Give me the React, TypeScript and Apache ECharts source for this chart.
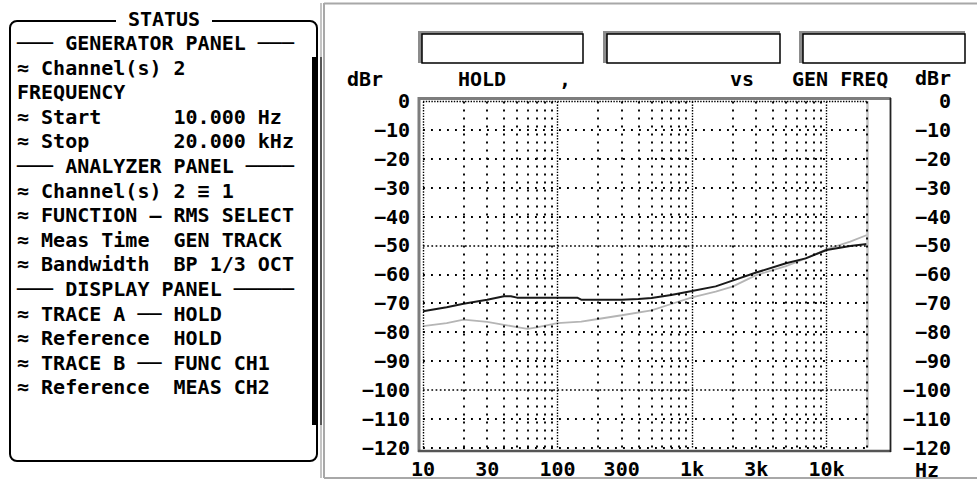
import React, { useEffect, useRef } from "react";
import * as echarts from "echarts";

// ---- data ----
const freqA = [10, 15, 20, 30, 40, 45, 50, 100, 140, 150, 300, 400, 500, 700, 1000, 1500, 2000, 3000, 5000, 7000, 10000, 15000, 20000];
const levelA = [-72.8, -71.4, -70.2, -68.8, -67.6, -67.6, -68.1, -68.1, -68.1, -68.8, -68.8, -68.6, -68.2, -67.2, -65.8, -64.2, -62.2, -59.4, -56.2, -54.5, -51.6, -50.2, -49.5];
const freqB = [10, 15, 20, 30, 40, 50, 60, 70, 100, 150, 200, 300, 500, 700, 1000, 1500, 2000, 3000, 5000, 7000, 10000, 15000, 20000];
const levelB = [-78.0, -76.9, -75.7, -76.5, -77.5, -78.3, -78.9, -78.4, -76.9, -76.4, -75.5, -74.2, -72.5, -70.3, -68.0, -66.0, -64.3, -60.3, -57.2, -54.5, -51.4, -48.7, -46.4];

const xTickValues = [10, 30, 100, 300, 1000, 3000, 10000];
const xTickLabels = ["10", "30", "100", "300", "1k", "3k", "10k"];
const xMajorGrid = [10, 100, 1000, 10000];
const xMinorGrid = [20, 30, 40, 50, 60, 70, 80, 90, 200, 300, 400, 500, 600, 700, 800, 900, 2000, 3000, 4000, 5000, 6000, 7000, 8000, 9000, 20000];
const yMajorGrid = [0, -50, -100];
const yMinorGrid = [-10, -20, -30, -40, -60, -70, -80, -90, -110, -120];

const statusLines = [
  "─── GENERATOR PANEL ───",
  "≈ Channel(s) 2",
  "FREQUENCY",
  "≈ Start      10.000 Hz",
  "≈ Stop       20.000 kHz",
  "─── ANALYZER PANEL ────",
  "≈ Channel(s) 2 ≡ 1",
  "≈ FUNCTION — RMS SELECT",
  "≈ Meas Time  GEN TRACK",
  "≈ Bandwidth  BP 1/3 OCT",
  "─── DISPLAY PANEL ─────",
  "≈ TRACE A ── HOLD",
  "≈ Reference  HOLD",
  "≈ TRACE B ── FUNC CH1",
  "≈ Reference  MEAS CH2",
];

const MONO = '"DejaVu Sans Mono", "Liberation Mono", monospace';

const txt = (text: string, x: number, y: number, align = "left") => ({
  type: "text",
  x,
  y,
  z: 20,
  silent: true,
  style: {
    text,
    fill: "#000",
    fontFamily: MONO,
    fontWeight: "bold",
    fontSize: 20,
    textAlign: align,
    align,
    textVerticalAlign: "middle",
    verticalAlign: "middle",
  },
});

const ln = (x1: number, y1: number, x2: number, y2: number, stroke: string, lineWidth: number) => ({
  type: "line",
  z: 15,
  silent: true,
  shape: { x1, y1, x2, y2 },
  style: { stroke, lineWidth },
});

const box = (x1: number, y1: number, x2: number, y2: number) => [
  { type: "rect", z: 5, silent: true, shape: { x: x1 - 4, y: y1 - 3, width: x2 - x1 + 4, height: y2 - y1 + 3 }, style: { fill: "#8c8c8c" } },
  { type: "rect", z: 6, silent: true, shape: { x: x1, y: y1, width: x2 - x1, height: y2 - y1 }, style: { fill: "#fff", stroke: "#000", lineWidth: 1.5 } },
];

export default function App() {
  const ref = useRef<HTMLDivElement>(null);
  useEffect(() => {
    if (!ref.current) return;
    const chart = echarts.init(ref.current, undefined, { renderer: "svg" });

    const minorDot = { color: "#000", width: 1.9, type: [1.9, 6.1] as any };
    const majorDot = { color: "#000", width: 1.4, type: [1.4, 1.4] as any };
    const midDot = { color: "#000", width: 1.7, type: [1.7, 2.5] as any };

    const gridMarks: any[] = [];
    xMinorGrid.forEach((v) => gridMarks.push({ xAxis: v, lineStyle: minorDot }));
    xMajorGrid.forEach((v) => gridMarks.push({ xAxis: v, lineStyle: majorDot }));
    yMinorGrid.forEach((v) => gridMarks.push({ yAxis: v, lineStyle: minorDot }));
    yMajorGrid.forEach((v) => gridMarks.push({ yAxis: v, lineStyle: v === 0 ? majorDot : midDot }));

    const labelFont = { fontFamily: MONO, fontWeight: "bold", fontSize: 20, color: "#000" };

    const graphics: any[] = [];
    // status panel
    graphics.push({ type: "rect", z: 10, silent: true, shape: { x: 10, y: 21, width: 307, height: 440, r: 7 }, style: { fill: "none", stroke: "#000", lineWidth: 2 } });
    graphics.push({ type: "rect", z: 11, silent: true, shape: { x: 116, y: 10, width: 96, height: 20 }, style: { fill: "#fff" } });
    graphics.push(txt("STATUS", 164, 19, "center"));
    statusLines.forEach((s, i) => graphics.push(txt(s, 17, 43 + i * 24.6)));
    // scroll bar & separators
    graphics.push({ type: "rect", z: 12, silent: true, shape: { x: 312, y: 57, width: 4, height: 368 }, style: { fill: "#000" } });
    graphics.push(ln(321, 3, 321, 478, "#b0b0b0", 1.5));
    graphics.push(ln(321, 57, 321, 425, "#333", 1.5));
    // right panel frame
    graphics.push(ln(324, 3, 324, 478, "#a8a8a8", 2));
    graphics.push(ln(324, 3.5, 977, 3.5, "#a8a8a8", 2));
    graphics.push(ln(324, 478, 977, 478, "#a8a8a8", 2));
    // header boxes
    graphics.push(...box(422, 34, 583, 63));
    graphics.push(...box(607, 34, 780, 63));
    graphics.push(...box(803, 34, 965, 63));
    // header texts
    graphics.push(txt("dBr", 347, 79));
    graphics.push(txt("HOLD", 458, 79));
    graphics.push(txt(",", 559, 79));
    graphics.push(txt("vs", 730, 79));
    graphics.push(txt("GEN FREQ", 792, 79));
    graphics.push(txt("dBr", 915, 77.5));
    graphics.push(txt("Hz", 915, 469.5));
    // plot frame
    graphics.push(ln(419, 97, 419, 452, "#7d7d7d", 3));
    graphics.push(ln(418, 98.5, 891, 98.5, "#7d7d7d", 3));
    graphics.push(ln(418, 451, 891, 451, "#555", 2.5));
    graphics.push(ln(890.5, 98, 890.5, 452, "#222", 1.8));

    chart.setOption({
      animation: false,
      backgroundColor: "#fff",
      grid: { left: 423, right: 110, top: 101, bottom: 33.5, containLabel: false },
      xAxis: {
        type: "log",
        logBase: 10,
        min: 10,
        max: 20000,
        axisLine: { show: false },
        axisTick: { show: false },
        axisLabel: { show: false },
        splitLine: { show: false },
      },
      yAxis: [
        {
          type: "value",
          min: -120,
          max: 0,
          interval: 10,
          position: "left",
          axisLine: { show: false },
          axisTick: { show: false },
          splitLine: { show: false },
          axisLabel: { ...labelFont, margin: 13, formatter: (v: number) => String(v).replace("-", "−") },
        },
        {
          type: "value",
          min: -120,
          max: 0,
          interval: 10,
          position: "right",
          axisLine: { show: false },
          axisTick: { show: false },
          splitLine: { show: false },
          axisLabel: { ...labelFont, margin: 84, align: "right", formatter: (v: number) => String(v).replace("-", "−") },
        },
      ],
      graphic: { elements: graphics },
      series: [
        {
          type: "line",
          z: 1,
          silent: true,
          data: [],
          showSymbol: false,
          markLine: {
            silent: true,
            symbol: ["none", "none"],
            label: { show: false },
            animation: false,
            data: [{ xAxis: 20000, lineStyle: { color: "#c4c4c4", width: 2.5, type: "solid" } }, ...gridMarks],
          },
        },
        {
          type: "line",
          name: "Trace B",
          z: 3,
          silent: true,
          showSymbol: false,
          data: freqB.map((f, i) => [f, levelB[i]]),
          lineStyle: { color: "#b5b5b5", width: 1.8 },
        },
        {
          type: "line",
          name: "Trace A",
          z: 4,
          silent: true,
          showSymbol: false,
          data: freqA.map((f, i) => [f, levelA[i]]),
          lineStyle: { color: "#1a1a1a", width: 2 },
        },
        {
          type: "custom",
          z: 5,
          silent: true,
          data: xTickValues.map((v) => [v, -120]),
          renderItem: (params: any, api: any) => {
            const p = api.coord([api.value(0), api.value(1)]);
            return {
              type: "text",
              x: p[0],
              y: p[1] + 21,
              style: {
                text: xTickLabels[params.dataIndex],
                fill: "#000",
                fontFamily: MONO,
                fontWeight: "bold",
                fontSize: 20,
                textAlign: "center",
                align: "center",
                textVerticalAlign: "middle",
                verticalAlign: "middle",
              },
            };
          },
        },
      ],
    });
    return () => chart.dispose();
  }, []);
  return <div ref={ref} style={{ position: "fixed", left: 0, top: 0, width: 977, height: 481, background: "#fff" }} />;
}
